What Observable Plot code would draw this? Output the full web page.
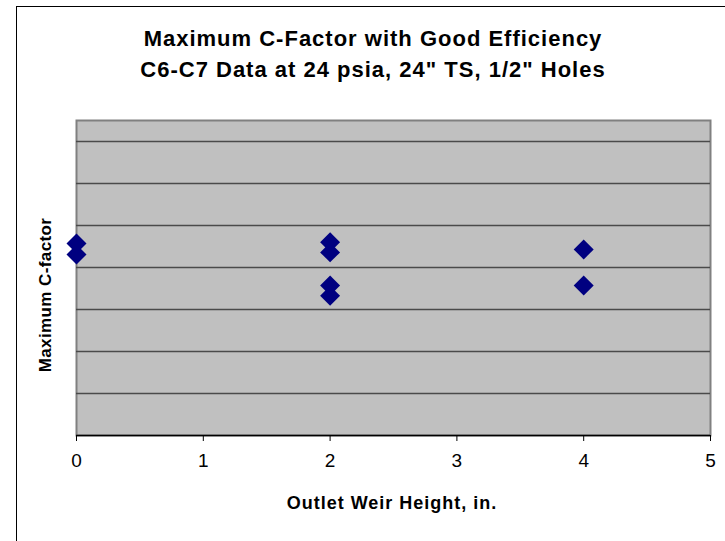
<!DOCTYPE html>
<html>
<head>
<meta charset="utf-8">
<script src="https://cdn.jsdelivr.net/npm/d3@7"></script>
<script src="https://cdn.jsdelivr.net/npm/@observablehq/plot@0.6"></script>
<style>
  html, body { margin: 0; padding: 0; background: #fff; }
  #wrap { position: relative; width: 725px; height: 541px; overflow: hidden; font-family: "Liberation Sans", Arial, sans-serif; }
  #border { position: absolute; left: 16px; top: 6px; width: 720px; height: 540px; border: 1px solid #000; box-sizing: border-box; }
  .title { position: absolute; left: 16px; width: 714px; text-align: center; font-weight: bold; font-size: 22px; line-height: 25px; letter-spacing: 1px; color: #000; white-space: nowrap; }
  #ylab { position: absolute; left: 46px; top: 295px; transform: translate(-50%, -50%) rotate(-90deg); white-space: nowrap; font-weight: bold; font-size: 17px; letter-spacing: 0.4px; }
  #xlab { position: absolute; left: 392px; top: 503px; transform: translate(-50%, -50%); white-space: nowrap; font-weight: bold; font-size: 18px; letter-spacing: 1px; }
  #chart { position: absolute; left: 0; top: 0; }
  #chart svg text { font-size: 19px; }
</style>
</head>
<body>
<div id="wrap">
  <div id="border"></div>
  <div id="chart"></div>
  <div class="title" style="top:26px">Maximum C-Factor with Good Efficiency</div>
  <div class="title" style="top:57px">C6-C7 Data at 24 psia, 24" TS, 1/2" Holes</div>
  <div id="ylab">Maximum C-factor</div>
  <div id="xlab">Outlet Weir Height, in.</div>
</div>
<script>
// Data (y axis has no labels; values in gridline units)
const weirHeight = [0, 0, 2, 2, 2, 2, 4, 4];
const maxCFactor = [4.57, 4.31, 4.60, 4.36, 3.57, 3.33, 4.43, 3.57];
const xTicks = [0, 1, 2, 3, 4, 5];
const yGrid = [1, 2, 3, 4, 5, 6, 7];

const data = weirHeight.map((x, i) => ({x, y: maxCFactor[i]}));

const chart = Plot.plot({
  width: 725,
  height: 541,
  marginTop: 120,
  marginBottom: 106,
  marginLeft: 76,
  marginRight: 15,
  style: {fontFamily: "Liberation Sans, Arial, sans-serif", fontSize: "19px", color: "#000", background: "transparent"},
  x: {domain: [0, 5], ticks: xTicks, tickFormat: d => d, label: null},
  y: {domain: [0, 7.5], axis: null},
  marks: [
    Plot.frame({fill: "#c0c0c0", stroke: "#808080", strokeWidth: 2}),
    Plot.ruleY(yGrid, {stroke: "#4a4a4a", strokeWidth: 1.5}),
    Plot.ruleY([0], {stroke: "#000", strokeWidth: 1.5}),
    Plot.axisX({ticks: xTicks, tickSize: 6, tickPadding: 12, tickFormat: d => String(d), label: null, stroke: "#000"}),
    Plot.dot(data, {x: "x", y: "y", symbol: "diamond2", r: 9, fill: "#000080", stroke: "none"})
  ]
});
document.getElementById("chart").appendChild(chart);
</script>
</body>
</html>
